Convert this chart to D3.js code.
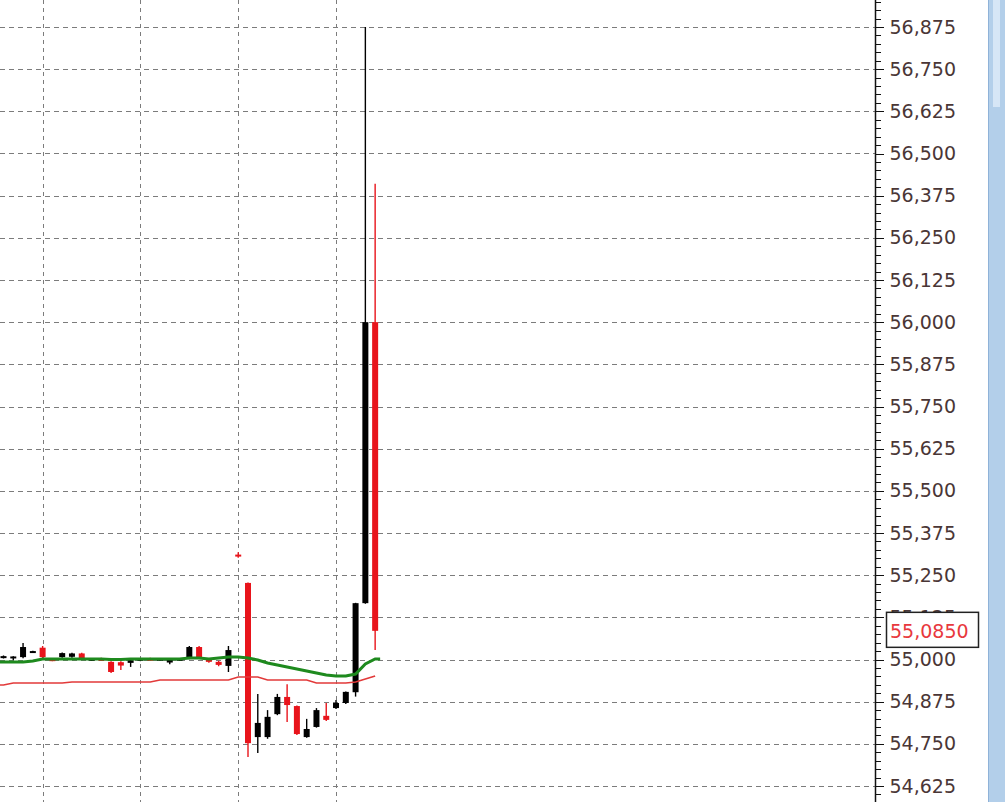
<!DOCTYPE html>
<html>
<head>
<meta charset="utf-8">
<title>Candles</title>
<script src="https://cdnjs.cloudflare.com/ajax/libs/d3/7.8.5/d3.min.js"></script>
<style>
    body { margin: 0; background: #fff; }
    .grid line { stroke: #7c7c7c; stroke-width: 1; shape-rendering: crispEdges; }
    .y-axis text { font-family: "DejaVu Sans", sans-serif; font-size: 19px; fill: #4a3636; }
    .y-axis path, .y-axis line { stroke: #111; shape-rendering: crispEdges; }
</style>
</head>
<body>
<script>
    var width = 1005, height = 802,
        axisX = 875;

    // candle data, one entry per bar
    var opens  = [55.006, 55.008, 55.007, 55.021, 55.035, 55.001, 55.007, 55.008, 55.018, 55.000,
                  55.002, 54.993, 54.992, 54.990, 54.998, 55.002, 54.999, 54.991, 55.000, 55.004,
                  55.037, 55.000, 54.993, 54.981, 55.311, 55.227, 54.770, 54.770, 54.838, 54.889,
                  54.862, 54.770, 54.800, 54.833, 54.856, 54.871, 54.903, 55.167, 56.000];
    var highs  = [55.012, 55.010, 55.049, 55.026, 55.040, 55.003, 55.021, 55.020, 55.020, 55.004,
                  55.005, 54.995, 54.995, 55.000, 55.004, 55.005, 55.004, 55.003, 55.004, 55.040,
                  55.040, 55.003, 54.996, 55.040, 55.318, 55.228, 54.898, 54.850, 54.898, 54.927,
                  54.864, 54.824, 54.856, 54.871, 54.880, 54.905, 55.168, 56.875, 56.410];
    var lows   = [55.003, 54.998, 55.004, 55.019, 55.004, 54.995, 55.005, 55.005, 55.001, 54.996,
                  54.997, 54.960, 54.969, 54.978, 54.995, 54.997, 54.996, 54.986, 54.996, 55.001,
                  55.004, 54.990, 54.980, 54.963, 55.302, 54.711, 54.723, 54.765, 54.835, 54.815,
                  54.776, 54.768, 54.798, 54.818, 54.853, 54.868, 54.890, 55.165, 55.028];
    var closes = [55.010, 55.009, 55.037, 55.025, 55.007, 54.997, 55.019, 55.018, 55.003, 55.002,
                  54.999, 54.963, 54.982, 54.998, 55.002, 54.999, 55.002, 55.000, 55.002, 55.037,
                  55.007, 54.993, 54.984, 55.028, 55.309, 54.752, 54.812, 54.830, 54.889, 54.865,
                  54.779, 54.794, 54.850, 54.821, 54.871, 54.904, 55.167, 56.000, 55.085];

    // moving averages
    var maFast = [54.9926, 54.9926, 54.9926, 54.9955, 55.0015, 55.0015, 55.0015, 55.0015, 55.0015, 55.0015,
                  55.0015, 55.0000, 55.0000, 55.0015, 55.0015, 55.0015, 55.0015, 55.0015, 55.0015, 55.0044,
                  55.0044, 55.0015, 55.0044, 55.0074, 55.0074, 55.0044, 54.9985, 54.9896, 54.9837, 54.9777,
                  54.9718, 54.9659, 54.9600, 54.9540, 54.9511, 54.9511, 54.9570, 54.9867, 55.0015];
    var maSlow = [54.9244, 54.9303, 54.9303, 54.9303, 54.9303, 54.9303, 54.9303, 54.9333, 54.9333, 54.9333,
                  54.9333, 54.9333, 54.9333, 54.9333, 54.9333, 54.9333, 54.9392, 54.9392, 54.9392, 54.9392,
                  54.9392, 54.9392, 54.9392, 54.9392, 54.9481, 54.9481, 54.9481, 54.9392, 54.9392, 54.9392,
                  54.9392, 54.9392, 54.9303, 54.9303, 54.9303, 54.9303, 54.9333, 54.9422, 54.9511];

    var yTicks = [54.625, 54.750, 54.875, 55.000, 55.125, 55.250, 55.375, 55.500, 55.625, 55.750,
                  55.875, 56.000, 56.125, 56.250, 56.375, 56.500, 56.625, 56.750, 56.875];
    var gridBars = [4, 14, 24, 34];

    var svg = d3.select("body").append("svg")
        .attr("width", width)
        .attr("height", height);

    var xScale = d3.scaleLinear()
        .domain([0, 38])
        .range([3.5, 3.5 + 38 * 9.78]);
    var yScale = d3.scaleLinear()
        .domain([54.625, 56.875])
        .range([786, 27]);

    var fmt = function (v, n) { return d3.format("." + n + "f")(v).replace(".", ","); };

    // grid
    var grid = svg.append("g").attr("class", "grid");
    grid.selectAll("line.h")
        .data(yTicks)
        .enter().append("line")
            .attr("class", "h")
            .attr("x1", 0).attr("x2", axisX)
            .attr("y1", function (d) { return Math.round(yScale(d)) + 0.5; })
            .attr("y2", function (d) { return Math.round(yScale(d)) + 0.5; })
            .attr("stroke-dasharray", "5,4");
    grid.selectAll("line.v")
        .data(gridBars)
        .enter().append("line")
            .attr("class", "v")
            .attr("x1", function (d) { return Math.round(xScale(d)) + 0.5; })
            .attr("x2", function (d) { return Math.round(xScale(d)) + 0.5; })
            .attr("y1", 0).attr("y2", height)
            .attr("stroke-dasharray", "4,4");

    // candles
    var bars = d3.range(opens.length);
    var colorOf = function (i) { return closes[i] >= opens[i] ? "#000" : "#e8141b"; };
    var candles = svg.append("g").attr("class", "candles");
    candles.selectAll("line")
        .data(bars)
        .enter().append("line")
            .attr("x1", function (i) { return xScale(i); })
            .attr("x2", function (i) { return xScale(i); })
            .attr("y1", function (i) { return yScale(highs[i]); })
            .attr("y2", function (i) { return yScale(lows[i]); })
            .attr("stroke", colorOf)
            .attr("stroke-width", 1.4);
    candles.selectAll("rect")
        .data(bars)
        .enter().append("rect")
            .attr("x", function (i) { return xScale(i) - 3; })
            .attr("width", 6)
            .attr("y", function (i) { return yScale(Math.max(opens[i], closes[i])); })
            .attr("height", function (i) {
                return Math.max(2, Math.abs(yScale(opens[i]) - yScale(closes[i])));
            })
            .attr("fill", colorOf);

    // moving averages, running from the left edge of the plot
    var maLine = function (arr, tail) {
        var pts = arr.map(function (v, i) { return [xScale(i), yScale(v)]; });
        pts.unshift([0, yScale(arr[0])]);
        if (tail) pts.push([xScale(arr.length - 1) + tail, yScale(arr[arr.length - 1])]);
        return d3.line()(pts);
    };
    svg.append("path")
        .attr("d", maLine(maSlow, 0))
        .attr("fill", "none")
        .attr("stroke", "#e23a3a")
        .attr("stroke-width", 1.7);
    svg.append("path")
        .attr("d", maLine(maFast, 5))
        .attr("fill", "none")
        .attr("stroke", "#1e8a1e")
        .attr("stroke-width", 3);

    // right price axis
    var minorAxis = d3.axisRight(yScale)
        .tickValues(d3.range(54.525, 56.976, 0.025))
        .tickSize(5)
        .tickFormat("");
    svg.append("g")
        .attr("class", "y-axis")
        .attr("transform", "translate(" + (axisX + 0.5) + ",0)")
        .call(minorAxis)
        .call(function (g) { g.select(".domain").remove(); });

    var yAxis = d3.axisRight(yScale)
        .tickValues(yTicks)
        .tickSize(8)
        .tickPadding(6)
        .tickFormat(function (d) { return fmt(d, 3); });
    svg.append("g")
        .attr("class", "y-axis")
        .attr("transform", "translate(" + (axisX + 0.5) + ",0)")
        .call(yAxis)
        .call(function (g) { g.select(".domain").remove(); })
        .call(function (g) { g.selectAll("text").attr("font-family", null).attr("font-size", null); });

    svg.append("line")
        .attr("x1", axisX + 0.5).attr("x2", axisX + 0.5)
        .attr("y1", 0).attr("y2", height)
        .attr("stroke", "#111").attr("stroke-width", 1.5);

    // last price label
    var last = closes[closes.length - 1];
    var ly = yScale(last);
    svg.append("rect")
        .attr("x", 886.5).attr("y", ly - 18.5)
        .attr("width", 92).attr("height", 35)
        .attr("fill", "#fff")
        .attr("stroke", "#222")
        .attr("stroke-width", 1.5);
    svg.append("text")
        .attr("x", 890).attr("y", ly)
        .attr("dy", "0.36em")
        .attr("font-family", "DejaVu Sans, sans-serif")
        .attr("font-size", 19)
        .attr("fill", "#e8383d")
        .text(fmt(last, 4));

    // scrollbar strip
    svg.append("rect")
        .attr("x", 988).attr("y", 0)
        .attr("width", 17).attr("height", height)
        .attr("fill", "#b3cfea");
    svg.append("line")
        .attr("x1", 988.5).attr("x2", 988.5)
        .attr("y1", 0).attr("y2", height)
        .attr("stroke", "#8fb2d8");
    svg.append("rect")
        .attr("x", 993).attr("y", 0)
        .attr("width", 7).attr("height", 107)
        .attr("fill", "#d6e6f6");
</script>
</body>
</html>
